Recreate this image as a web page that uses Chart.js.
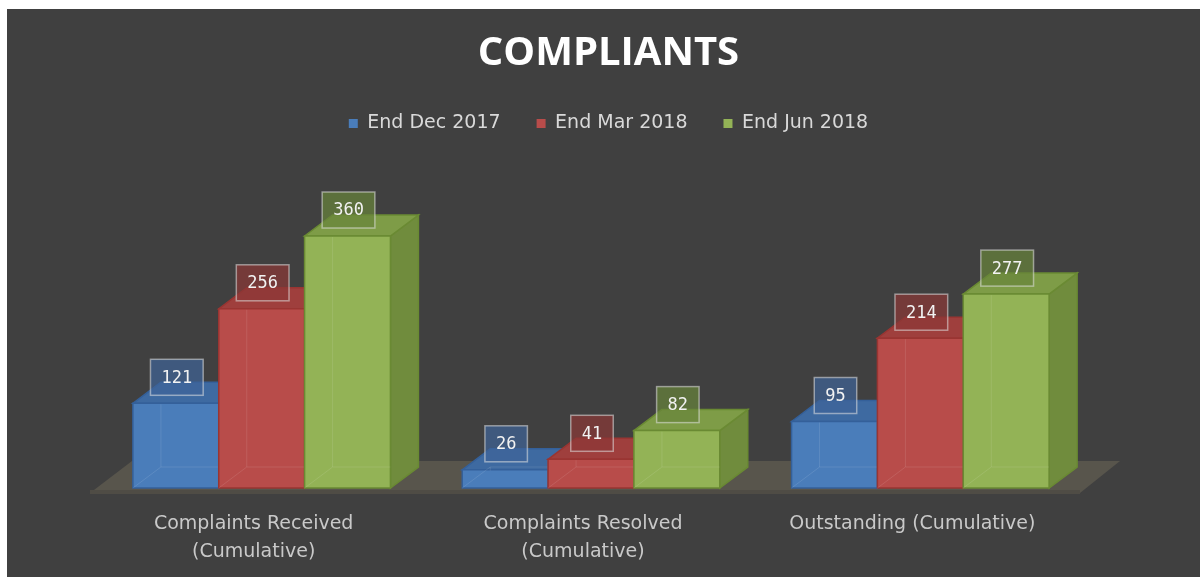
<!DOCTYPE html>
<html>
<head>
<meta charset="utf-8">
<script src="https://cdn.jsdelivr.net/npm/chart.js@4/dist/chart.umd.min.js"></script>
<style>
  body { margin: 0; background: #ffffff; }
  #wrap { position: absolute; left: 7px; top: 9px; width: 1193px; height: 568px; background: #404040; }
</style>
</head>
<body>
<div id="wrap"><canvas id="complaintsChart" width="1193" height="568"></canvas></div>
<script>
// chart data
let categories = [
  ["Complaints Received", "(Cumulative)"],
  ["Complaints Resolved", "(Cumulative)"],
  "Outstanding (Cumulative)"
];
let seriesNames = ["End Dec 2017", "End Mar 2018", "End Jun 2018"];
let endDec2017 = [121, 26, 95];
let endMar2018 = [256, 41, 214];
let endJun2018 = [360, 82, 277];

// colours per series: front, top, side, edge, label box
let palette = [
  { front: "#4a7dba", top: "#3e6aa1", side: "#39639a", edge: "#34609a", box: "rgba(62,100,152,0.7)" },
  { front: "#b84c4a", top: "#9f3f3d", side: "#963a38", edge: "#993532", box: "rgba(140,56,54,0.7)" },
  { front: "#93b356", top: "#7e9c47", side: "#708c3d", edge: "#6a8a33", box: "rgba(104,132,58,0.7)" }
];

const depthX = 28;
const depthY = -21;

function poly(ctx, pts, fill, stroke) {
  ctx.beginPath();
  ctx.moveTo(pts[0][0], pts[0][1]);
  for (let i = 1; i < pts.length; i++) ctx.lineTo(pts[i][0], pts[i][1]);
  ctx.closePath();
  ctx.fillStyle = fill;
  ctx.fill();
  if (stroke) {
    ctx.strokeStyle = stroke;
    ctx.lineWidth = 1.5;
    ctx.stroke();
  }
}

// floor + 3D faces + value boxes
const bars3d = {
  id: "bars3d",
  beforeDatasetsDraw(chart) {
    let ctx = chart.ctx;
    let a = chart.chartArea;
    ctx.save();
    poly(ctx, [
      [a.left - 7, a.bottom + 5], [a.right - 5, a.bottom + 5],
      [a.right + 35, a.bottom - 27], [a.left + 35, a.bottom - 27]
    ], "#58554c");
    ctx.fillStyle = "#4f4c45";
    ctx.fillRect(a.left - 7, a.bottom + 2, a.right - a.left + 2, 4);
    ctx.restore();
  },
  afterDatasetsDraw(chart) {
    let ctx = chart.ctx;
    ctx.save();
    chart.data.datasets.forEach(function (ds, i) {
      let c = palette[i];
      chart.getDatasetMeta(i).data.forEach(function (el) {
        let p = el.getProps(["x", "y", "base", "width"], true);
        let l = p.x - p.width / 2, r = p.x + p.width / 2, t = p.y, b = p.base;
        // side
        poly(ctx, [[r, t], [r + depthX, t + depthY], [r + depthX, b + depthY], [r, b]], c.side, c.edge);
        // top
        poly(ctx, [[l, t], [l + depthX, t + depthY], [r + depthX, t + depthY], [r, t]], c.top, c.edge);
        // front
        poly(ctx, [[l, t], [r, t], [r, b], [l, b]], c.front, c.edge);
        // faint hidden edges seen through the front
        ctx.strokeStyle = "rgba(255,255,255,0.10)";
        ctx.lineWidth = 1;
        ctx.beginPath();
        ctx.moveTo(l + depthX, Math.min(t + depthY + 22, b));
        ctx.lineTo(l + depthX, b + depthY);
        ctx.lineTo(r, b + depthY);
        ctx.moveTo(l, b);
        ctx.lineTo(l + depthX, b + depthY);
        ctx.stroke();
      });
    });
    // value boxes
    ctx.font = '17px "DejaVu Sans Mono"';
    ctx.textAlign = "center";
    ctx.textBaseline = "middle";
    chart.data.datasets.forEach(function (ds, i) {
      let c = palette[i];
      chart.getDatasetMeta(i).data.forEach(function (el, j) {
        let p = el.getProps(["x", "y"], true);
        let txt = String(ds.data[j]);
        let w = ctx.measureText(txt).width + 22;
        let h = 36;
        let cx = p.x + 1, cy = p.y - 26;
        ctx.fillStyle = c.box;
        ctx.fillRect(cx - w / 2, cy - h / 2, w, h);
        ctx.strokeStyle = "rgba(225,225,225,0.55)";
        ctx.lineWidth = 1.5;
        ctx.strokeRect(cx - w / 2, cy - h / 2, w, h);
        ctx.fillStyle = "#f2f2f2";
        ctx.fillText(txt, cx, cy + 1);
      });
    });
    ctx.restore();
  }
};

// push plot area down below the legend
const legendSpacer = {
  id: "legendSpacer",
  beforeInit(chart) {
    if (!chart.legend) return;
    let origFit = chart.legend.fit;
    chart.legend.fit = function () {
      origFit.bind(chart.legend)();
      this.height = 130;
    };
  }
};

let ctx = document.getElementById("complaintsChart").getContext("2d");
let complaintsChart = new Chart(ctx, {
  type: "bar",
  data: {
    labels: categories,
    datasets: [
      { label: seriesNames[0], data: endDec2017, backgroundColor: palette[0].front, borderWidth: 0 },
      { label: seriesNames[1], data: endMar2018, backgroundColor: palette[1].front, borderWidth: 0 },
      { label: seriesNames[2], data: endJun2018, backgroundColor: palette[2].front, borderWidth: 0 }
    ]
  },
  options: {
    responsive: false,
    animation: false,
    events: [],
    layout: { padding: { left: 10, right: 0, top: 0, bottom: 13 } },
    datasets: { bar: { categoryPercentage: 0.782, barPercentage: 1.0 } },
    scales: {
      x: {
        grid: { display: false, drawTicks: false },
        border: { display: false },
        ticks: {
          color: "#c9c9c9",
          font: { family: "DejaVu Sans", size: 19, lineHeight: 1.47 },
          padding: 22,
          labelOffset: -8,
          maxRotation: 0
        },
        afterFit(scale) { scale.height = 76; }
      },
      y: {
        min: 0,
        max: 400,
        grid: { display: false, drawTicks: false },
        border: { display: false },
        ticks: { display: false },
        afterFit(scale) { scale.width = 80; }
      },
      y2: {
        type: "linear",
        position: "right",
        grid: { display: false, drawTicks: false },
        border: { display: false },
        ticks: { display: false },
        afterFit(scale) { scale.width = 115; }
      }
    },
    plugins: {
      title: {
        display: true,
        text: "COMPLIANTS",
        color: "#ffffff",
        font: { family: "Open Sans", size: 40, weight: "bold" },
        padding: { top: 21, bottom: 0 }
      },
      legend: {
        labels: {
          color: "#d9d9d9",
          font: { family: "DejaVu Sans", size: 19 },
          boxWidth: 9,
          boxHeight: 9,
          padding: 36
        }
      },
      tooltip: { enabled: false }
    }
  },
  plugins: [bars3d, legendSpacer]
});
</script>
</body>
</html>
